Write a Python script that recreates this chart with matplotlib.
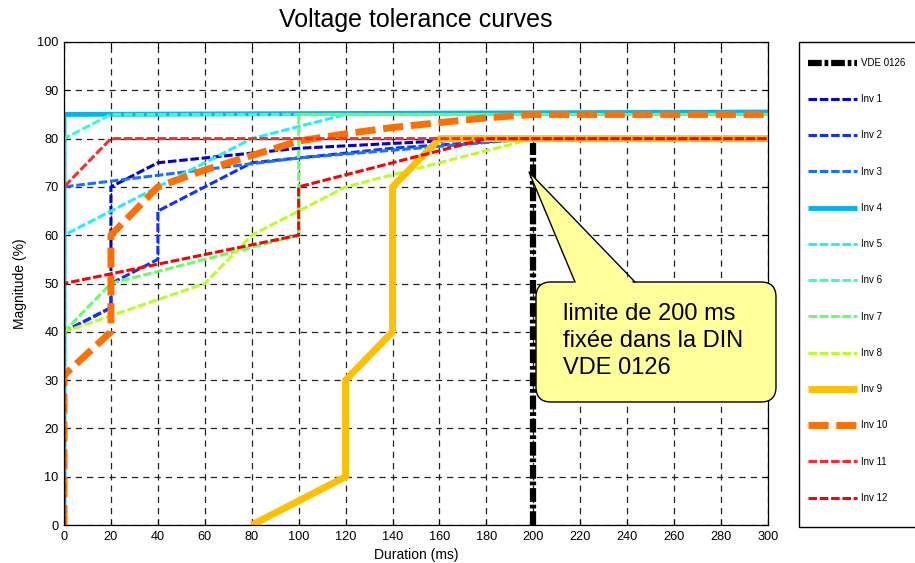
import matplotlib
matplotlib.use("Agg")
import matplotlib.pyplot as plt
from matplotlib.patches import FancyBboxPatch, Polygon, Rectangle
from matplotlib.lines import Line2D
from matplotlib.transforms import IdentityTransform

plt.rcParams["font.family"] = ["Liberation Sans", "DejaVu Sans"]

W, H = 915, 563

# curve data: duration (ms) / magnitude (%)
vde_x = [200, 200]
vde_y = [0, 79]

inv1_x = [0, 0, 20, 20, 40, 100, 180, 300]
inv1_y = [0, 40, 45, 70, 75, 78, 80, 80]
inv2_x = [0, 0, 20, 20, 40, 40, 80, 140, 200, 300]
inv2_y = [0, 40, 45, 50, 55, 65, 75, 78, 80, 80]
inv3_x = [0, 0, 100, 200, 300]
inv3_y = [0, 70, 76, 80, 80]
inv4_x = [0, 0, 300]
inv4_y = [0, 85, 85.5]
inv5_x = [0, 0, 40, 80, 100, 120, 300]
inv5_y = [0, 60, 70, 80, 82.5, 85, 85]
inv6_x = [0, 0, 20, 300]
inv6_y = [0, 80, 85, 85]
inv7_x = [0, 0, 20, 100, 100, 300]
inv7_y = [0, 40, 50, 60, 85, 85]
inv8_x = [0, 0, 60, 80, 120, 200, 300]
inv8_y = [0, 40, 50, 60, 70, 80, 80]
inv9_x = [80, 100, 120, 120, 140, 140, 160, 300]
inv9_y = [0, 5, 10, 30, 40, 70, 80, 80]
inv10_x = [0, 0, 20, 20, 40, 60, 80, 100, 120, 140, 160, 180, 200, 300]
inv10_y = [0, 31, 40, 60, 70, 73.5, 76.5, 79.5, 81, 82.3, 83.3, 84.3, 85, 85]
inv11_x = [0, 0, 20, 300]
inv11_y = [0, 70, 80, 80]
inv12_x = [0, 0, 100, 100, 180, 300]
inv12_y = [0, 50, 60, 70, 80, 80]

labels = ["VDE 0126", "Inv 1", "Inv 2", "Inv 3", "Inv 4", "Inv 5", "Inv 6",
          "Inv 7", "Inv 8", "Inv 9", "Inv 10", "Inv 11", "Inv 12"]
xs = [vde_x, inv1_x, inv2_x, inv3_x, inv4_x, inv5_x, inv6_x,
      inv7_x, inv8_x, inv9_x, inv10_x, inv11_x, inv12_x]
ys = [vde_y, inv1_y, inv2_y, inv3_y, inv4_y, inv5_y, inv6_y,
      inv7_y, inv8_y, inv9_y, inv10_y, inv11_y, inv12_y]

thin = (2.8, 0.9)
styles = [
    dict(color="black", lw=4.5, dashes=(2.2, 0.45, 0.6, 0.45)),
    dict(color="#0000dd", lw=2.2, dashes=thin),
    dict(color="#1030ff", lw=2.2, dashes=thin),
    dict(color="#1a70ff", lw=2.2, dashes=thin),
    dict(color="#00b4f0", lw=3.5, ls="-"),
    dict(color="#22eeff", lw=2.2, dashes=thin),
    dict(color="#33ffcc", lw=2.2, dashes=thin),
    dict(color="#66ff66", lw=2.2, dashes=thin),
    dict(color="#bbff22", lw=2.2, dashes=thin),
    dict(color="#ffc000", lw=5, ls="-"),
    dict(color="#ff7000", lw=5, dashes=(2.9, 1.1)),
    dict(color="#ff2a2a", lw=2.2, dashes=thin),
    dict(color="#ff0000", lw=2.2, dashes=thin),
]

fig = plt.figure(figsize=(W / 100, H / 100), dpi=100)
ax = fig.add_axes([64 / W, 1 - 525 / H, 704 / W, 483 / H])

for x, y, lab, st in zip(xs, ys, labels, styles):
    ax.plot(x, y, label=lab, solid_capstyle="butt", dash_capstyle="butt", **st)

ax.set_xlim(0, 300)
ax.set_ylim(0, 100)
ax.set_xticks(range(0, 301, 20))
ax.set_yticks(range(0, 101, 10))
ax.tick_params(direction="in", top=True, right=True, labelsize=9.2, length=4, width=0.8, pad=4)
ax.grid(True, color="#222222", ls=(0, (5, 4)), lw=0.9)
ax.set_axisbelow(True)
for s in ax.spines.values():
    s.set_linewidth(0.9)

ax.set_title("Voltage tolerance curves", fontsize=18, pad=11)
ax.set_xlabel("Duration (ms)", fontsize=10, labelpad=4)
ax.set_ylabel("Magnitude (%)", fontsize=10, labelpad=7)

ident = IdentityTransform()

# legend frame drawn separately, runs past the right edge like the original
fig.patches.append(Rectangle((799, H - 527), 140, 485, transform=ident, facecolor="white",
                             edgecolor="black", lw=1.0, zorder=-1))
leg = ax.legend(loc="upper left", bbox_to_anchor=(808 / W, 1 - 58 / H), bbox_transform=fig.transFigure,
                fontsize=7, frameon=False, handlelength=5.0, handletextpad=0.5, labelspacing=2.7,
                borderpad=0, borderaxespad=0)

# callout box (pixel coordinates)
box = FancyBboxPatch((536, H - 402), 240, 120, boxstyle="round,pad=0,rounding_size=15",
                     transform=ident, facecolor="#ffff99", edgecolor="black", lw=1.0, zorder=10,
                     clip_on=False)
fig.patches.append(box)
tip = (529, H - 172)
b1 = (575, H - 282)
b2 = (635, H - 282)
tri = Polygon([tip, (b1[0], b1[1] - 3), (b2[0], b2[1] - 3)], closed=True, transform=ident,
              facecolor="#ffff99", edgecolor="none", zorder=11)
fig.patches.append(tri)
fig.lines.append(Line2D([b1[0], tip[0], b2[0]], [b1[1], tip[1], b2[1]], transform=ident,
                        color="black", lw=1.0, zorder=12))
note_lines = ["limite de 200 ms", "fixée dans la DIN", "VDE 0126"]
for i, line in enumerate(note_lines):
    fig.text(563 / W, 1 - (320 + 27 * i) / H, line, fontsize=17, va="baseline", ha="left", zorder=13)

fig.savefig("out.png", dpi=100)
